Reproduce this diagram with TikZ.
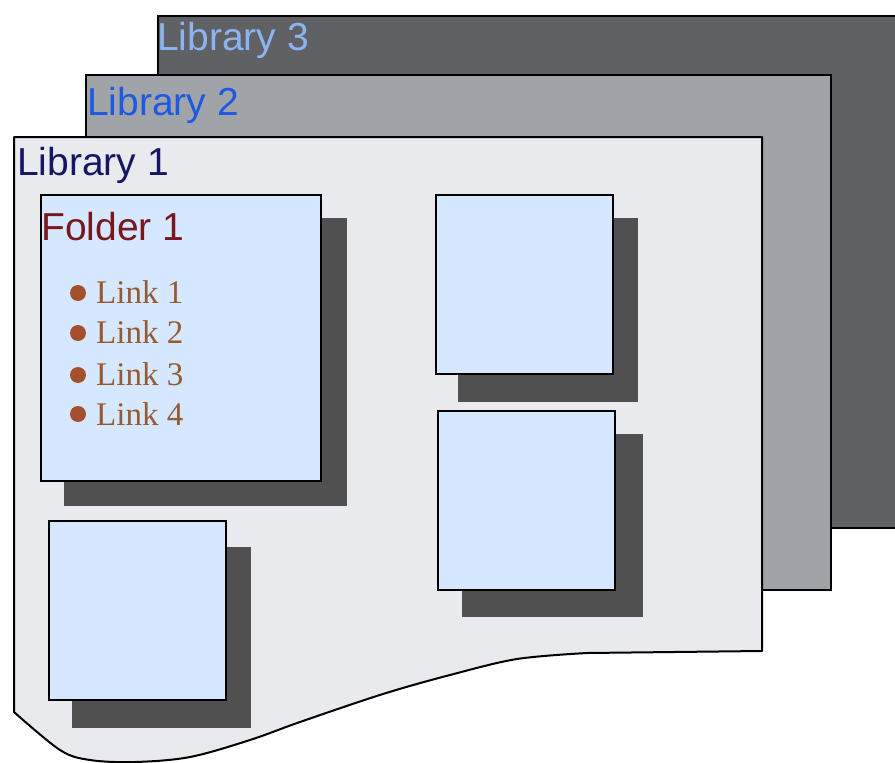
\documentclass[tikz,border=0pt]{standalone}
\usepackage{fontspec}
\setmainfont{Liberation Serif}
\newfontfamily\libfont{Liberation Sans}
\definecolor{libthree}{RGB}{96,97,100}
\definecolor{libtwo}{RGB}{160,164,168}
\definecolor{libone}{RGB}{232,234,238}
\definecolor{txtthree}{RGB}{140,180,240}
\definecolor{txttwo}{RGB}{30,90,225}
\definecolor{txtone}{RGB}{22,22,100}
\definecolor{folderfill}{RGB}{214,232,255}
\definecolor{foldertxt}{RGB}{120,24,28}
\definecolor{linktxt}{RGB}{150,90,50}
\definecolor{bulletc}{RGB}{165,80,45}
\definecolor{shadowc}{RGB}{80,80,80}
\begin{document}
\begin{tikzpicture}[x=1pt,y=-1pt,
  libbox/.style={draw=black,line width=2pt},
  folderbox/.style={draw=black,line width=2pt,fill=folderfill},
  shadowbox/.style={fill=shadowc},
  libtext/.style={anchor=base west,inner sep=0pt,font=\libfont\fontsize{39}{40}\selectfont},
  linktext/.style={anchor=base west,inner sep=0pt,text=linktxt,font=\fontsize{33}{34}\selectfont},
  bullet/.style={circle,fill=bulletc,inner sep=0pt,minimum size=16pt}]
\useasboundingbox (0,0) rectangle (895,763);
% libraries
\draw[libbox,fill=libthree] (158,16) rectangle (905,528);
\draw[libbox,fill=libtwo] (86,75) rectangle (831,590);
\draw[libbox,fill=libone,line join=round] (14,137) -- (762,137) -- (762,651)
  -- plot[smooth,tension=0.55] coordinates {(587,653) (517,659) (450,675) (383,694) (300,722) (250,740) (190,757) (135,762) (90,760) (60,750) (14,712)} -- cycle;
\node[libtext,text=txtthree] (lib3) at (157,50) {Library 3};
\node[libtext,text=txttwo] (lib2) at (87,115) {Library 2};
\node[libtext,text=txtone] (lib1) at (17,175) {Library 1};
% shadows
\fill[shadowbox] (64,218) rectangle (347,506);
\fill[shadowbox] (72,547) rectangle (251,728);
\fill[shadowbox] (458,218) rectangle (638,402);
\fill[shadowbox] (462,434) rectangle (643,617);
% folders
\draw[folderbox] (41,195) rectangle (321,481);
\draw[folderbox] (49,521) rectangle (226,700);
\draw[folderbox] (436,195) rectangle (613,374);
\draw[folderbox] (438,411) rectangle (615,590);
\node[libtext,text=foldertxt] (f1) at (41,240) {Folder 1};
% links
\node[bullet] (b1) at (78,293) {};
\node[bullet] (b2) at (78,333) {};
\node[bullet] (b3) at (78,375) {};
\node[bullet] (b4) at (78,414) {};
\node[linktext] (l1) at (96,303) {Link 1};
\node[linktext] (l2) at (96,343) {Link 2};
\node[linktext] (l3) at (96,385) {Link 3};
\node[linktext] (l4) at (96,425) {Link 4};
\end{tikzpicture}
\end{document}
